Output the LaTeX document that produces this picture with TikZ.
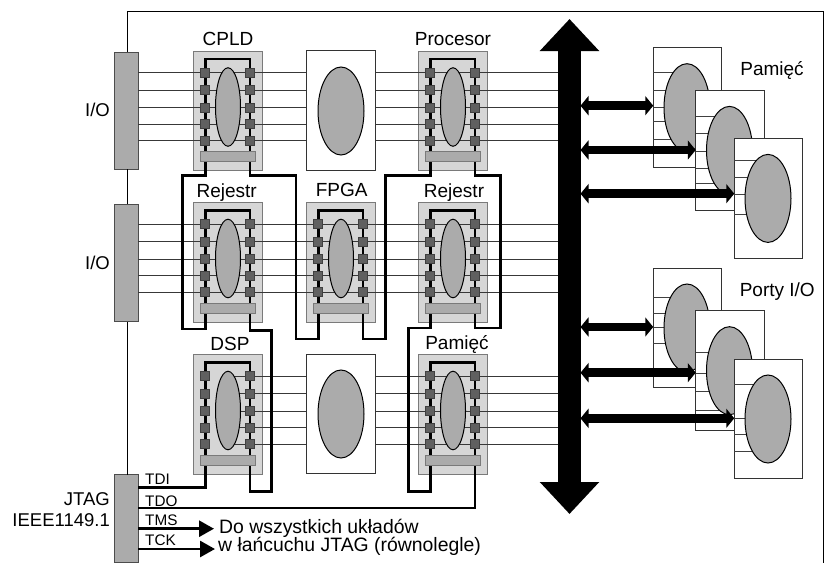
\documentclass[tikz,border=0pt]{standalone}
\usepackage{fontspec}
\setmainfont{Liberation Sans}
\usetikzlibrary{arrows.meta,shapes.geometric}
\definecolor{chipgray}{HTML}{D6D6D6}
\definecolor{midgray}{HTML}{ABABAB}
\definecolor{padgray}{HTML}{606060}
\definecolor{edgegray}{HTML}{7A7A7A}
\tikzset{
  chipbox/.style={draw=edgegray,line width=1pt,fill=chipgray,rectangle,minimum width=68.5pt,minimum height=119.5pt,inner sep=0pt,outer sep=0pt},
  whitebox/.style={draw=black!80,line width=1pt,fill=white,rectangle,minimum width=68.5pt,minimum height=119.5pt,inner sep=0pt,outer sep=0pt},
  bigoval/.style={draw=black,line width=1pt,fill=midgray,ellipse,minimum width=46pt,minimum height=88pt,inner sep=0pt,outer sep=0pt},
  smalloval/.style={draw=black,line width=1pt,fill=midgray,ellipse,minimum width=25pt,minimum height=78.5pt,inner sep=0pt,outer sep=0pt},
  padbox/.style={draw=black!75,line width=0.8pt,fill=padgray,rectangle,minimum width=9pt,minimum height=9pt,inner sep=0pt,outer sep=0pt},
  barbox/.style={draw=edgegray,line width=1pt,fill=midgray,rectangle,minimum width=55pt,minimum height=10pt,inner sep=0pt,outer sep=0pt},
  iobox/.style={draw=black!70,line width=1pt,fill=midgray,rectangle,minimum width=23.5pt,inner sep=0pt,outer sep=0pt},
  pinline/.style={draw=black!78,line width=1pt},
  thinpin/.style={draw=black!75,line width=0.9pt},
  boardline/.style={draw=black,line width=1pt},
  wire/.style={draw=black,line width=2.8pt,line join=miter},
  sigarrow/.style={draw=black,line width=2.8pt,-{Triangle[length=15pt,width=16pt]}},
  busarrow/.style={draw=black,line width=22.4pt,{Triangle[length=32pt,width=57.5pt]}-{Triangle[length=32pt,width=57.5pt]}},
  linkarrow/.style={draw=black,line width=8.5pt,{Triangle[length=8pt,width=19pt]}-{Triangle[length=8pt,width=19pt]}},
  biglabel/.style={font=\fontsize{19}{19}\selectfont,inner sep=0pt,anchor=base},
  sidelabel/.style={font=\fontsize{18.5}{19}\selectfont,inner sep=0pt,anchor=base east},
  siglabel/.style={font=\fontsize{15.3}{16}\selectfont,inner sep=0pt,anchor=base west},
  notelabel/.style={font=\fontsize{19.4}{19}\selectfont,inner sep=0pt,anchor=base west},
}
% chip frame and its named points: name, centre x, top y
\newcommand{\chipbase}[4][chipbox]{%
  \node[#1] (#2) at (#3,#4+59.75) {};
  \coordinate (#2-a) at (#3,#4+21.5);
  \coordinate (#2-b) at (#3,#4+39);
  \coordinate (#2-c) at (#3,#4+56.5);
  \coordinate (#2-d) at (#3,#4+73);
  \coordinate (#2-e) at (#3,#4+89.5);
  \coordinate (#2-L) at (#3-22.7,#4+105);
  \coordinate (#2-R) at (#3+22,#4+105);
}
% chip inner parts
\newcommand{\chipfront}[3]{%
  \draw[wire] (#2-22.7,#3+100) -- (#2-22.7,#3+8) -- (#2+22,#3+8) -- (#2+22,#3+100);
  \node[smalloval] (#1-oval) at (#2,#3+56) {};
  \foreach \py/\pn in {21.5/1,39/2,56.5/3,73/4,89.5/5}{
    \node[padbox] (#1-pl\pn) at (#2-22.7,#3+\py) {};
    \node[padbox] (#1-pr\pn) at (#2+22,#3+\py) {};
  }
  \node[barbox] (#1-bar) at (#2-0.3,#3+105.5) {};
}
\newcommand{\memblock}[4]{%
  \node[whitebox] (#1) at (#2,#3+59.7) {};
  \foreach \py in {#4}{\draw[thinpin] (#1.west |- 0,\py) -- (#2,\py);}
  \node[bigoval] (#1-oval) at (#2-0.5,#3+59.7) {};
}
\begin{document}
\begin{tikzpicture}[x=1pt,y=-1pt]
\useasboundingbox (0,0) rectangle (825,563);
\fill[white] (0,0) rectangle (825,563);
% side blocks
\node[iobox,minimum height=117pt] (io1) at (126.5,110.5) {};
\node[iobox,minimum height=117.4pt] (io2) at (126.5,263) {};
\node[iobox,minimum height=87.5pt] (jtag) at (126.5,518.7) {};
\coordinate (boardTL) at (127.7,11);
\coordinate (boardTR) at (823,11);
\coordinate (boardBR) at (823,563);
\draw[boardline] (jtag.north -| boardTL) -- (io2.south -| boardTL);
\draw[boardline] (io2.north -| boardTL) -- (io1.south -| boardTL);
\draw[boardline] (io1.north -| boardTL) -- (boardTL) -- (boardTR) -- (boardBR);
% chip frames
\chipbase{cpld}{228}{51}
\chipbase{proc}{453}{51}
\chipbase{rej1}{228}{202.5}
\chipbase{fpga}{341}{202.5}
\chipbase{rej2}{453}{202.5}
\chipbase{dsp}{228}{354.5}
\chipbase{pam}{453}{354.5}
\coordinate (busTop) at (569.5,19);
\coordinate (busBot) at (569.5,514);
\coordinate (busEdge) at (580.5,0);
% signal rows
\foreach \k in {a,b,c,d,e}{
  \draw[pinline] (io1.east |- cpld-\k) -- (busTop |- cpld-\k);
  \draw[pinline] (io2.east |- rej1-\k) -- (busTop |- rej1-\k);
  \draw[pinline] (dsp |- dsp-\k) -- (busTop |- dsp-\k);
}
% white chips
\node[whitebox] (w1) at (341,110.7) {};
\node[bigoval] (w1-oval) at (341,111) {};
\node[whitebox] (w2) at (341,414.2) {};
\node[bigoval] (w2-oval) at (341,414) {};
% JTAG chain
\draw[wire] (jtag.east |- 0,487.7) -- (dsp-L |- 0,487.7) -- (dsp-L);
\draw[wire] (dsp-R) -- (dsp-R |- 0,491.7) -- (271.7,491.7) -- (271.7,330.7) -- (rej1-R |- 0,330.7) -- (rej1-R);
\draw[wire] (rej1-L) -- (rej1-L |- 0,329) -- (182.3,329) -- (182.3,175.5) -- (cpld-L |- 0,175.5) -- (cpld-L);
\draw[wire] (cpld-R) -- (cpld-R |- 0,175.5) -- (296,175.5) -- (296,339) -- (fpga-L |- 0,339) -- (fpga-L);
\draw[wire] (fpga-R) -- (fpga-R |- 0,339) -- (385.7,339) -- (385.7,175.5) -- (proc-L |- 0,175.5) -- (proc-L);
\draw[wire] (proc-R) -- (proc-R |- 0,175.5) -- (500.7,175.5) -- (500.7,328) -- (rej2-R |- 0,328) -- (rej2-R);
\draw[wire] (rej2-L) -- (rej2-L |- 0,328) -- (408.5,328) -- (408.5,491.7) -- (pam-L |- 0,491.7) -- (pam-L);
\draw[wire] (pam-R) -- (pam-R |- 0,508) -- (jtag.east |- 0,508);
% chip interiors
\chipfront{cpld}{228}{51}
\chipfront{proc}{453}{51}
\chipfront{rej1}{228}{202.5}
\chipfront{fpga}{341}{202.5}
\chipfront{rej2}{453}{202.5}
\chipfront{dsp}{228}{354.5}
\chipfront{pam}{453}{354.5}
% memory and port blocks
\memblock{m1}{687.5}{48}{72.7,90,107,121.7,139}
\memblock{m2}{730}{90.7}{116.3,133.7,151,168,183.7}
\memblock{m3}{768.5}{138.7}{160,177,194,214}
\memblock{p1}{687.5}{268.3}{297,313,327.7,343.3}
\memblock{p2}{730}{311}{352.7,373,391.3,410}
\memblock{p3}{768.5}{359.3}{384.3,418,434.3,451}
% bus and links
\draw[busarrow] (busTop) -- (busBot);
\draw[linkarrow] (busEdge |- 0,105.7) -- (m1.west |- 0,105.7);
\draw[linkarrow] (busEdge |- 0,150) -- (m2.west |- 0,150);
\draw[linkarrow] (busEdge |- 0,193.7) -- (m3.west |- 0,193.7);
\draw[linkarrow] (busEdge |- 0,327) -- (p1.west |- 0,327);
\draw[linkarrow] (busEdge |- 0,372.7) -- (p2.west |- 0,372.7);
\draw[linkarrow] (busEdge |- 0,418.3) -- (p3.west |- 0,418.3);
% JTAG outputs
\coordinate (tmsEnd) at (214,528.7);
\coordinate (tckEnd) at (215,549);
\draw[sigarrow] (jtag.east |- tmsEnd) -- (tmsEnd);
\draw[sigarrow] (jtag.east |- tckEnd) -- (tckEnd);
% labels
\node[biglabel] (lcpld) at (228,45) {CPLD};
\node[biglabel] (lproc) at (453,45) {Procesor};
\node[biglabel] (lrej1) at (226.7,197.7) {Rejestr};
\node[biglabel] (lfpga) at (341.7,196) {FPGA};
\node[biglabel] (lrej2) at (454,197.7) {Rejestr};
\node[biglabel] (ldsp) at (230,350) {DSP};
\node[biglabel] (lpam) at (457,349) {Pamięć};
\node[biglabel] (lmem) at (772,75) {Pamięć};
\node[biglabel] (lport) at (777.3,296.7) {Porty I/O};
\node[sidelabel] (lio1) at (110,116) {I/O};
\node[sidelabel] (lio2) at (110,269.3) {I/O};
\node[sidelabel] (ljtag) at (110,505) {JTAG};
\node[sidelabel] (lieee) at (110,526.7) {IEEE1149.1};
\node[siglabel] (ltdi) at (145,484) {TDI};
\node[siglabel] (ltdo) at (145,506) {TDO};
\node[siglabel] (ltms) at (145,525) {TMS};
\node[siglabel] (ltck) at (145,545.7) {TCK};
\node[notelabel] (lnote1) at (219,533) {Do wszystkich układów};
\node[notelabel] (lnote2) at (218,551.7) {w łańcuchu JTAG (równolegle)};
\end{tikzpicture}
\end{document}
